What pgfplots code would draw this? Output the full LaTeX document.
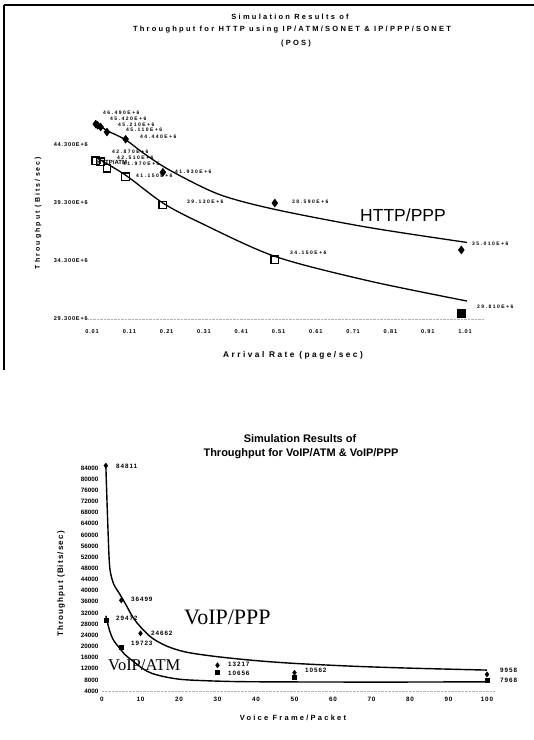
\documentclass[border=0pt]{standalone}
\usepackage{pgfplots}
\pgfplotsset{compat=1.18}
\usepackage{fontspec}
\setmainfont{Liberation Sans}
\newfontfamily\lsp{Liberation Sans}[LetterSpace=30]
\newfontfamily\lsm{Liberation Sans}[LetterSpace=15]
\newfontfamily\tnr{Liberation Serif}
\newcommand{\dl}{\lsp\bfseries\fontsize{5}{5.5}\selectfont}
\newcommand{\bl}{\lsm\bfseries\fontsize{6.3}{7}\selectfont}
\begin{document}
\begin{tikzpicture}
\path[use as bounding box] (0pt,0pt) rectangle (534pt,740pt);
% chart frame (top chart)
\draw[line width=1.2pt] (4pt,735pt) -- (534pt,735pt);
\draw[line width=1.2pt] (4pt,735pt) -- (4pt,370pt);

% ================= TOP CHART =================
\begin{axis}[
  at={(88.3pt,421pt)}, anchor=south west, scale only axis,
  width=395.4pt, height=211.1pt,
  xmin=0, xmax=1.06, ymin=29.3, ymax=47.5,
  axis x line*=bottom, axis y line*=left,
  x axis line style={gray!60, densely dotted, -},
  y axis line style={draw=none},
  tick style={draw=none},
  xtick={0.01,0.11,0.21,0.31,0.41,0.51,0.61,0.71,0.81,0.91,1.01},
  xticklabels={0.01,0.11,0.21,0.31,0.41,0.51,0.61,0.71,0.81,0.91,1.01},
  ytick={29.3,34.3,39.3,44.3},
  yticklabels={29.300E+6,34.300E+6,39.300E+6,44.300E+6},
  ticklabel style={font=\lsm\bfseries\fontsize{5.6}{6}\selectfont},
  /pgf/number format/assume math mode=true,
  xticklabel style={yshift=-7pt},
  yticklabel style={xshift=3pt},
  clip=false,
]
% HTTP/PPP trendline
\addplot[smooth, black, line width=1.3pt] coordinates {
 (0.02,46.2) (0.05,45.55) (0.1,44.75) (0.15,43.55) (0.22,42.1)
 (0.35,40.05) (0.5,38.75) (0.75,37.2) (1.015,35.9)};
% HTTP/ATM trendline
\addplot[smooth, black, line width=1.3pt] coordinates {
 (0.022,43.2) (0.1,41.7) (0.2,39.3) (0.3,37.6) (0.5,34.7)
 (0.75,32.6) (1.015,30.85)};
% HTTP/PPP points
\addplot[only marks, mark=diamond*, mark size=4pt, black] coordinates {
 (0.02,46.1) (0.025,46.0) (0.033,45.85) (0.05,45.42) (0.1,44.8)
 (0.2,41.95) (0.5,39.3) (1.0,35.25)};
% HTTP/ATM points
\addplot[only marks, mark=square, mark size=3.8pt, line width=1.3pt, black] coordinates {
 (0.02,42.95) (0.033,42.85) (0.05,42.3) (0.1,41.55) (0.2,39.13) (0.5,34.4)};
\addplot[only marks, mark=square*, mark size=3.8pt, black] coordinates {(1.0,29.82)};
\end{axis}

% top titles
\node[font=\lsp\bfseries\fontsize{7.5}{8}\selectfont] at (290pt,723pt) {Simulation Results of};
\node[font=\lsp\bfseries\fontsize{7.5}{8}\selectfont] at (292pt,710pt) {Throughput for HTTP using IP/ATM/SONET \& IP/PPP/SONET};
\node[font=\lsp\bfseries\fontsize{7.5}{8}\selectfont] at (296pt,696pt) {(POS)};
\node[font=\lsp\bfseries\fontsize{8.3}{9}\selectfont] at (293pt,385pt) {Arrival Rate (page/sec)};
\node[font=\lsp\bfseries\fontsize{7}{8}\selectfont, rotate=90] at (38pt,527pt) {Throughput (Bits/sec)};
\node[anchor=west, font=\fontsize{17.5}{18}\selectfont, inner sep=0pt] at (360pt,525pt) {HTTP/PPP};
\node[anchor=west, font=\bfseries\fontsize{6}{7}\selectfont, inner sep=0pt] at (97pt,578pt) {HTTP/ATM};
% top data labels
\begin{scope}[every node/.style={anchor=west, inner sep=0pt, font=\dl}]
\node at (103pt,627pt) {46.490E+6};
\node at (110pt,621pt) {45.420E+6};
\node at (118pt,615pt) {45.210E+6};
\node at (126pt,610pt) {45.110E+6};
\node at (140pt,603pt) {44.440E+6};
\node at (175pt,568pt) {41.930E+6};
\node at (292pt,538pt) {38.590E+6};
\node at (472pt,496pt) {35.010E+6};
\node at (112pt,588pt) {42.870E+6};
\node at (117pt,582pt) {42.510E+6};
\node at (123pt,576pt) {41.970E+6};
\node at (136pt,564pt) {41.150E+6};
\node at (187pt,538pt) {39.130E+6};
\node at (290pt,487pt) {34.150E+6};
\node at (477pt,433pt) {29.810E+6};
\end{scope}

% ================= BOTTOM CHART =================
\begin{axis}[
  at={(102pt,49pt)}, anchor=south west, scale only axis,
  width=392.7pt, height=228.6pt,
  xmin=0, xmax=102, ymin=4000, ymax=86000,
  axis x line*=bottom, axis y line*=left,
  x axis line style={gray!60, densely dotted, -},
  y axis line style={draw=none},
  tick style={draw=none},
  xtick={0,10,20,30,40,50,60,70,80,90,100},
  ytick={4000,8000,12000,16000,20000,24000,28000,32000,36000,40000,44000,48000,52000,56000,60000,64000,68000,72000,76000,80000,84000},
  scaled ticks=false,
  /pgf/number format/.cd, set thousands separator={}, assume math mode=true, /pgfplots/.cd,
  ticklabel style={font=\bfseries\fontsize{6.3}{7}\selectfont},
  xticklabel style={yshift=-3pt, font=\lsm\bfseries\fontsize{6.3}{7}\selectfont},
  clip=false,
]
% VoIP/PPP trendline
\addplot[smooth, black, line width=1.4pt] coordinates {
 (1,84800) (1.5,64000) (2,48500) (3,42500) (4.5,39000) (6,35500) (8,30500)
 (10,27000) (13,23000) (17,20000) (22,17900) (30,16300) (40,14900)
 (50,13900) (65,12900) (80,12200) (100,11500)};
% VoIP/ATM trendline
\addplot[smooth, black, line width=1.4pt] coordinates {
 (1,31000) (2,25500) (3,22200) (4.2,20000) (6,17000) (7.8,15000)
 (10.6,12000) (13,10300) (17,8900) (22,8000) (34,7400) (50,7250)
 (75,7200) (100,7300)};
% VoIP/PPP points
\addplot[only marks, mark=diamond*, mark size=2.6pt, black] coordinates {
 (1,84811) (5,36499) (10,24662) (30,13217) (50,10562) (100,9958)};
% VoIP/ATM points
\addplot[only marks, mark=square*, mark size=2pt, black] coordinates {
 (1,29472) (5,19723) (30,10656) (50,9046) (100,7968)};
\end{axis}

% bottom titles
\node[font=\bfseries\fontsize{11}{12}\selectfont] at (300pt,301pt) {Simulation Results of};
\node[font=\bfseries\fontsize{11}{12}\selectfont] at (301pt,286pt) {Throughput for VoIP/ATM \& VoIP/PPP};
\node[font=\lsp\bfseries\fontsize{7.5}{8}\selectfont] at (293pt,22pt) {Voice Frame/Packet};
\node[font=\lsm\bfseries\fontsize{8}{9}\selectfont, rotate=90] at (61pt,156pt) {Throughput (Bits/sec)};
\node[anchor=west, font=\tnr\fontsize{22}{22}\selectfont, inner sep=0pt] at (184pt,123pt) {VoIP/PPP};
\node[anchor=west, font=\tnr\fontsize{16.5}{17}\selectfont, inner sep=0pt] at (108pt,75pt) {VoIP/ATM};
% bottom data labels
\begin{scope}[every node/.style={anchor=west, inner sep=0pt, font=\bl}]
\node at (116pt,274pt) {84811};
\node at (131pt,141pt) {36499};
\node at (116pt,122pt) {29472};
\node at (151pt,107pt) {24662};
\node at (131pt,97pt) {19723};
\node at (228pt,76pt) {13217};
\node at (228pt,67pt) {10656};
\node at (305pt,70pt) {10562};
\node at (500pt,70pt) {9958};
\node at (500pt,60pt) {7968};
\end{scope}
\end{tikzpicture}
\end{document}
